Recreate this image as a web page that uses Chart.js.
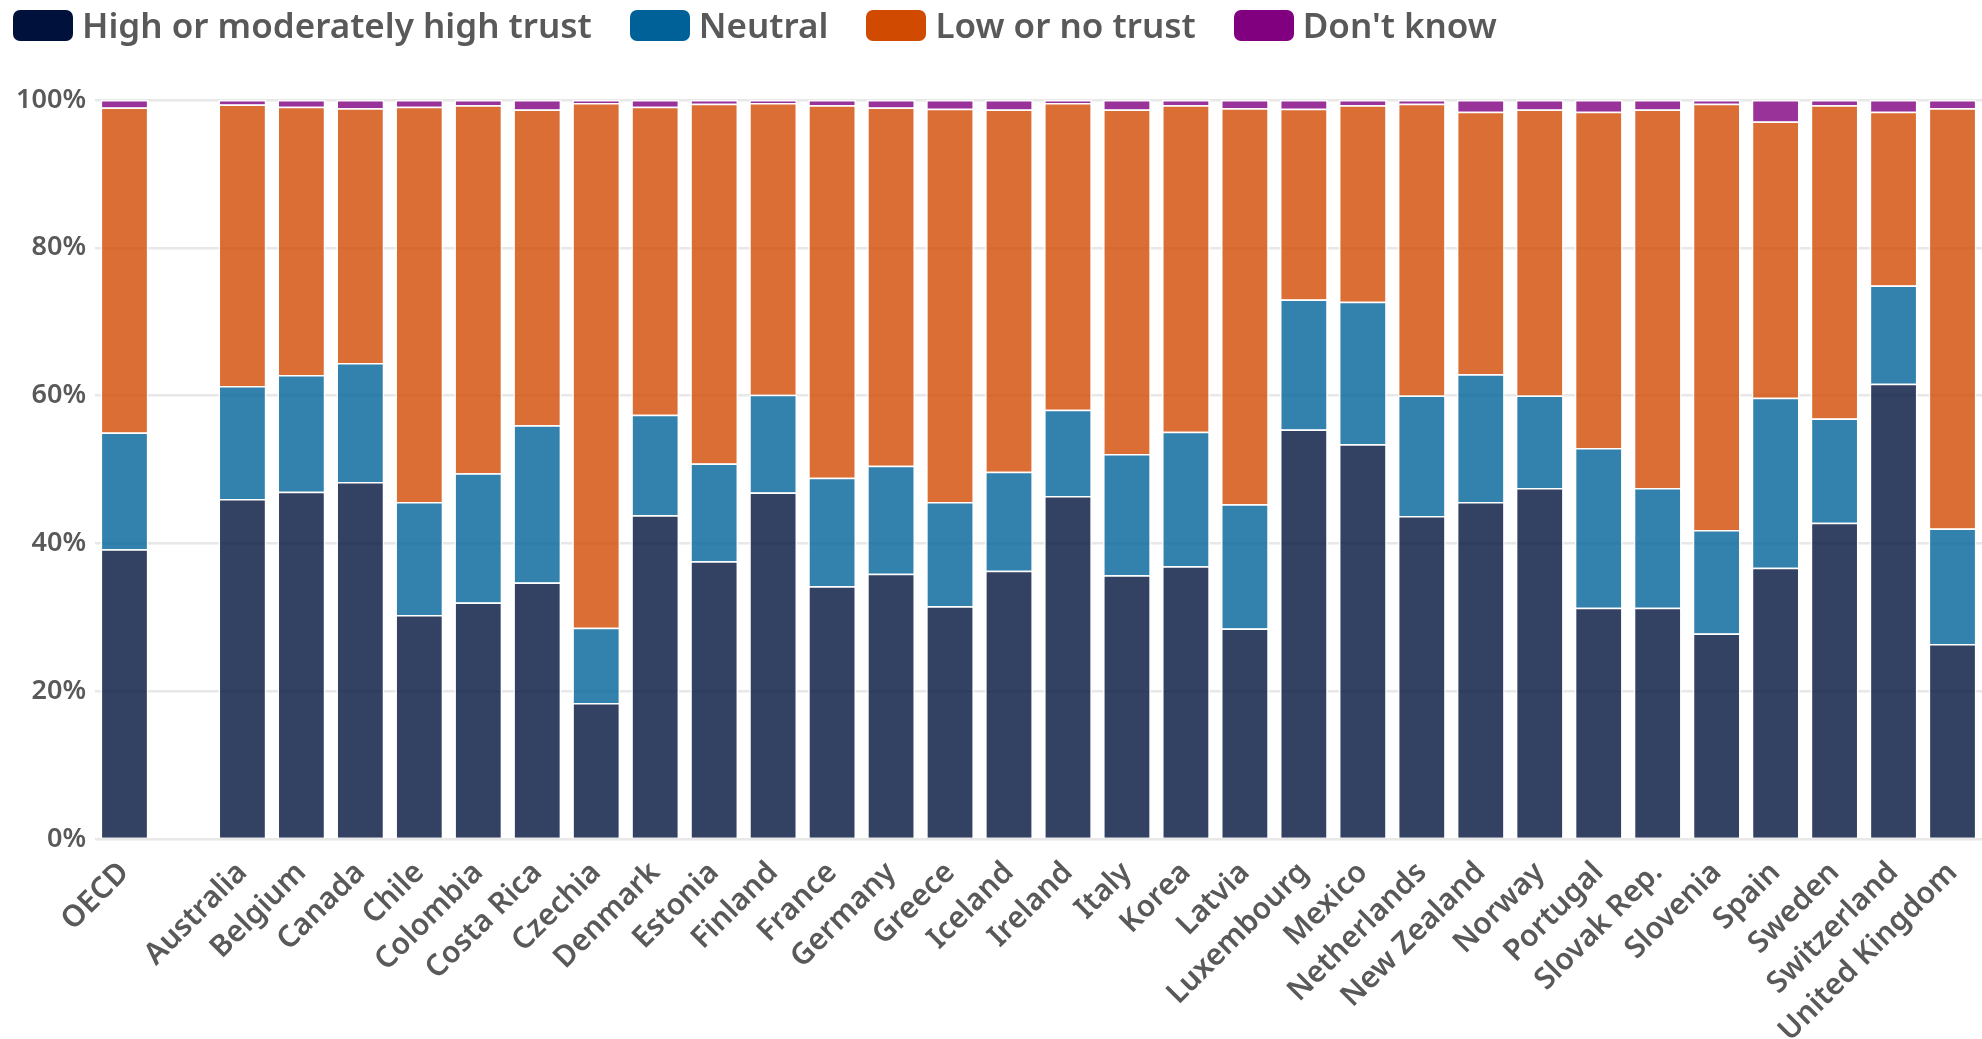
<!DOCTYPE html>
<html>
<head>
<meta charset="utf-8">
<script src="https://cdn.jsdelivr.net/npm/chart.js@4"></script>
<style>
  body { margin: 0; background: #fff; font-family: "Noto Sans", sans-serif; }
  #wrap { position: relative; width: 1982px; height: 1039px; }
  #legend { position: absolute; left: 13px; top: 9px; display: flex; align-items: center; gap: 38px; }
  .item { display: flex; align-items: center; gap: 9px; font-size: 35px; font-weight: 600; color: #595959; line-height: 32px; }
  .swatch { width: 60px; height: 31px; border-radius: 7px; }
</style>
</head>
<body>
<div id="wrap">
  <div id="legend"></div>
  <canvas id="trustChart"></canvas>
</div>
<script>
// Categories (empty slot separates OECD from the countries)
const countries = ['OECD', '', 'Australia', 'Belgium', 'Canada', 'Chile', 'Colombia', 'Costa Rica', 'Czechia',
    'Denmark', 'Estonia', 'Finland', 'France', 'Germany', 'Greece', 'Iceland', 'Ireland', 'Italy', 'Korea',
    'Latvia', 'Luxembourg', 'Mexico', 'Netherlands', 'New Zealand', 'Norway', 'Portugal', 'Slovak Rep.',
    'Slovenia', 'Spain', 'Sweden', 'Switzerland', 'United Kingdom'];

// Shares of respondents, %
const highTrust = [39.2, null, 46.0, 47.0, 48.3, 30.3, 32.0, 34.7, 18.4, 43.8, 37.6, 46.9, 34.2, 35.9, 31.5, 36.3,
    46.4, 35.7, 36.9, 28.5, 55.4, 53.4, 43.7, 45.6, 47.5, 31.3, 31.3, 27.8, 36.7, 42.8, 61.6, 26.4];
const neutral = [15.8, null, 15.3, 15.8, 16.1, 15.3, 17.5, 21.3, 10.2, 13.6, 13.2, 13.2, 14.7, 14.6, 14.1, 13.4,
    11.7, 16.4, 18.2, 16.8, 17.6, 19.3, 16.3, 17.3, 12.5, 21.6, 16.2, 14.0, 23.0, 14.1, 13.3, 15.6];
const lowTrust = [44.0, null, 38.1, 36.3, 34.5, 53.5, 49.8, 42.7, 71.0, 41.7, 48.7, 39.5, 50.4, 48.5, 53.2, 49.0,
    41.5, 46.6, 44.2, 53.6, 25.8, 26.6, 39.5, 35.5, 38.7, 45.5, 51.2, 57.7, 37.4, 42.4, 23.5, 56.9];
const dontKnow = [1.0, null, 0.6, 0.9, 1.1, 0.9, 0.7, 1.3, 0.4, 0.9, 0.5, 0.4, 0.7, 1.0, 1.2, 1.3,
    0.4, 1.3, 0.7, 1.1, 1.2, 0.7, 0.5, 1.6, 1.3, 1.6, 1.3, 0.5, 2.9, 0.7, 1.6, 1.1];

const yTicks = [0, 20, 40, 60, 80, 100];

const seriesNames = ['High or moderately high trust', 'Neutral', 'Low or no trust', "Don't know"];
const solidColors = ['rgb(0,18,59)', 'rgb(0,97,153)', 'rgb(209,74,2)', 'rgb(128,0,128)'];
const barColors = ['rgba(0,18,59,0.8)', 'rgba(0,97,153,0.8)', 'rgba(209,74,2,0.8)', 'rgba(128,0,128,0.8)'];
const seriesData = [highTrust, neutral, lowTrust, dontKnow];

// Legend
const legend = document.getElementById('legend');
seriesNames.forEach((name, i) => {
    const item = document.createElement('div');
    item.className = 'item';
    item.innerHTML = '<span class="swatch" style="background:' + solidColors[i] + '"></span><span>' + name + '</span>';
    legend.appendChild(item);
});

Chart.defaults.font.family = '"Noto Sans", sans-serif';
Chart.defaults.color = '#595959';

const canvas = document.getElementById('trustChart');
new Chart(canvas, {
    type: 'bar',
    data: {
        labels: countries,
        datasets: seriesData.map((d, i) => ({
            label: seriesNames[i],
            data: d,
            backgroundColor: barColors[i],
            borderColor: '#ffffff',
            borderWidth: 1.5,
            categoryPercentage: 1,
            barPercentage: 0.81
        }))
    },
    options: {
        responsive: true,
        maintainAspectRatio: false,
        animation: false,
        layout: { padding: { top: 100, left: 0, right: 0, bottom: 0 } },
        plugins: {
            legend: { display: false },
            tooltip: { enabled: false }
        },
        scales: {
            x: {
                stacked: true,
                grid: { display: false },
                border: { display: false },
                ticks: {
                    autoSkip: false,
                    minRotation: 45,
                    maxRotation: 45,
                    padding: 8,
                    font: { size: 30, weight: '600' }
                },
                afterFit(scale) {
                    scale.height = 200;
                    scale.paddingLeft = 0;
                    scale.paddingRight = 0;
                }
            },
            y: {
                stacked: true,
                min: 0,
                max: 100,
                afterBuildTicks(scale) {
                    scale.ticks = yTicks.map(v => ({ value: v }));
                },
                grid: { color: '#e8e8e8', lineWidth: 2.5, drawTicks: false },
                border: { display: false },
                ticks: {
                    padding: 9,
                    font: { size: 27, weight: '600' },
                    callback: v => v + '%'
                },
                afterFit(scale) {
                    scale.width = 95;
                }
            }
        }
    }
});
</script>
</body>
</html>
